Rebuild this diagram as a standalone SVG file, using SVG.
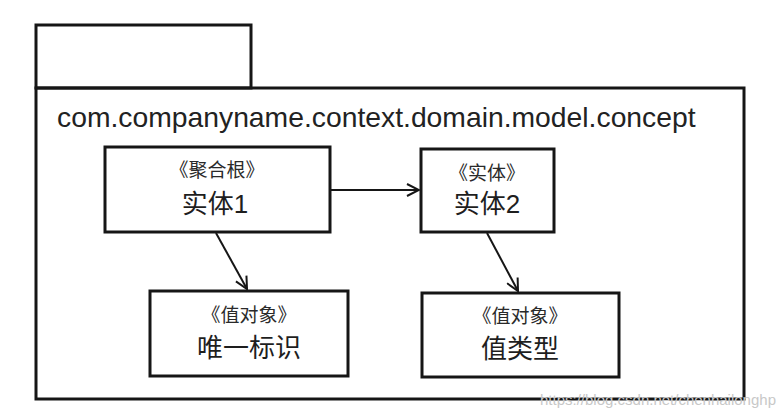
<svg xmlns="http://www.w3.org/2000/svg" width="784" height="416" viewBox="0 0 784 416">
<defs>
<style>
.frame{fill:none;stroke:#161616;stroke-width:3}
.box{fill:#fff;stroke:#161616;stroke-width:3}
.conn{fill:none;stroke:#161616;stroke-width:2}
.head{fill:none;stroke:#161616;stroke-width:2;stroke-linejoin:miter}
.st{font-family:"Liberation Sans","Noto Sans CJK SC",sans-serif;font-size:19px;fill:#2a2a2a;text-anchor:middle}
.nm{font-family:"Liberation Sans","Noto Sans CJK SC",sans-serif;font-size:26px;fill:#1e1e1e;text-anchor:middle}
.title{font-family:"Liberation Sans",Arial,sans-serif;font-size:28.3px;fill:#222}
.wm{font-family:"Liberation Sans",Arial,sans-serif;font-size:15px;fill:#c8c8c8;text-anchor:end}
</style>
<marker id="arr" viewBox="0 0 14 14" refX="13" refY="7" markerWidth="14" markerHeight="14" markerUnits="userSpaceOnUse" orient="auto">
<path class="head" d="M1,1 L13,7 L1,13"/>
</marker>
</defs>
<g id="package">
<rect class="frame" x="36" y="25" width="215" height="63"/>
<rect class="frame" x="36" y="88" width="708" height="311"/>
<text class="title" x="57" y="127">com.companyname.context.domain.model.concept</text>
</g>
<g id="connectors">
<line class="conn" x1="331" y1="190" x2="419" y2="190" marker-end="url(#arr)"/>
<line class="conn" x1="216" y1="233" x2="247" y2="289" marker-end="url(#arr)"/>
<line class="conn" x1="487" y1="233" x2="518" y2="291" marker-end="url(#arr)"/>
</g>
<g id="entity1">
<rect class="box" x="105" y="147" width="225" height="85"/>
<text class="st" x="217" y="177">《聚合根》</text>
<text class="nm" x="215" y="213">实体1</text>
</g>
<g id="entity2">
<rect class="box" x="421" y="149" width="133" height="83"/>
<text class="st" x="487" y="180">《实体》</text>
<text class="nm" x="487" y="213">实体2</text>
</g>
<g id="identity">
<rect class="box" x="150" y="291" width="198" height="85"/>
<text class="st" x="249" y="322">《值对象》</text>
<text class="nm" x="249" y="357">唯一标识</text>
</g>
<g id="valuetype">
<rect class="box" x="422" y="293" width="197" height="84"/>
<text class="st" x="520" y="323">《值对象》</text>
<text class="nm" x="520" y="358">值类型</text>
</g>
<text class="wm" x="776" y="405">https://blog.csdn.net/chenhailonghp</text>
</svg>
